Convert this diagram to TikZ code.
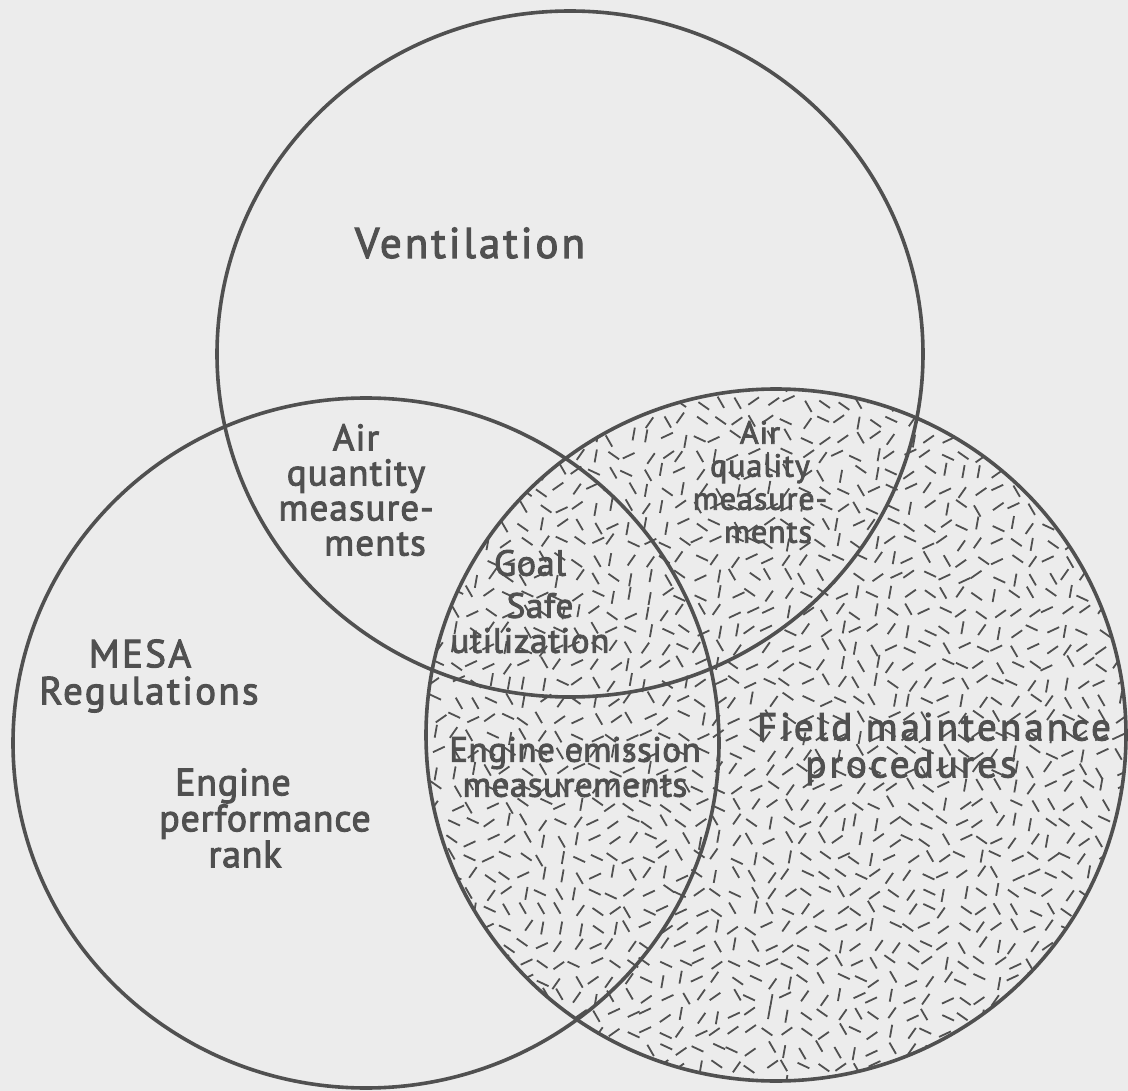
\documentclass[tikz,border=0pt]{standalone}
\usepackage{fontspec}
\setmainfont{PT Sans}[FakeBold=2.6]
\begin{document}
\begin{tikzpicture}[x=1pt,y=-1pt]
\definecolor{paper}{HTML}{ECECEC}
\definecolor{ink}{HTML}{505050}
\tikzset{
  ring/.style={draw=ink,line width=3.6pt},
  speck/.style={draw=ink,line width=1.8pt},
  lbl/.style={text=ink,inner sep=0pt,anchor=center,align=center},
}
% font size, line spacing and letter spacing of a label
\newcommand\lettering[3]{\fontsize{#1}{#2}\selectfont\addfontfeatures{LetterSpace=#3}}
\pgfmathdeclarerandomlist{dashang}{{25}{35}{60}{100}{125}{145}{155}}

\fill[paper] (0,0) rectangle (1128,1091);
\useasboundingbox (0,0) rectangle (1128,1091);

% speckled texture filling the right-hand set
\begin{scope}
  \clip (776,735) ellipse [x radius=350, y radius=346];
  \pgfmathsetseed{42}
  \foreach \i in {0,...,40}{
    \foreach \j in {0,...,40}{
      \pgfmathsetmacro\px{420+\i*17.5+4*rand}
      \pgfmathsetmacro\py{385+\j*17.5+4*rand}
      \pgfmathrandomitem{\ang}{dashang}
      \draw[speck] (\px,\py) ++(\ang:-6.5) -- ++(\ang:13);
    }
  }
\end{scope}

% the three sets
\draw[ring] (570,354) ellipse [x radius=353, y radius=343];
\draw[ring] (366,743) ellipse [x radius=353, y radius=345];
\draw[ring] (776,735) ellipse [x radius=350, y radius=346];

% top set
\node[lbl,font=\lettering{43}{43}{7}] (vent) at (470,243) {Ventilation};

% top and left overlap
\node[lbl,font=\lettering{37}{35}{3}] (aqty) at (356,490)
  {Air\\quantity\\measure-\\\hspace*{38pt}ments};

% left set
\node[lbl,font=\lettering{39}{37}{6}] (mesa) at (149,676)
  {MESA\hspace*{18pt}\\Regulations};
\node[lbl,font=\lettering{38}{36}{2}] (perf) at (255,818)
  {Engine\hspace*{44pt}\\\hspace*{20pt}performance\\rank\hspace*{20pt}};

% top and right overlap
\node[lbl,font=\lettering{32}{33}{3}] (aqly) at (760,482)
  {Air\\quality\\measure-\\\hspace*{16pt}ments};

% centre of all three
\node[lbl,font=\lettering{36}{36}{2}] (goal) at (530,563) {Goal};
\node[lbl,font=\lettering{35}{35}{2}] (safe) at (530,623)
  {\hspace*{20pt}Safe\\utilization};

% left and right overlap
\node[lbl,font=\lettering{35}{35}{1.5}] (emis) at (575,767)
  {Engine emission\\measurements};

% right set
\node[lbl,font=\lettering{39}{37}{8}] (fld) at (925,749)
  {\hspace*{18pt}Field maintenance\\procedures\hspace*{28pt}};
\end{tikzpicture}
\end{document}
